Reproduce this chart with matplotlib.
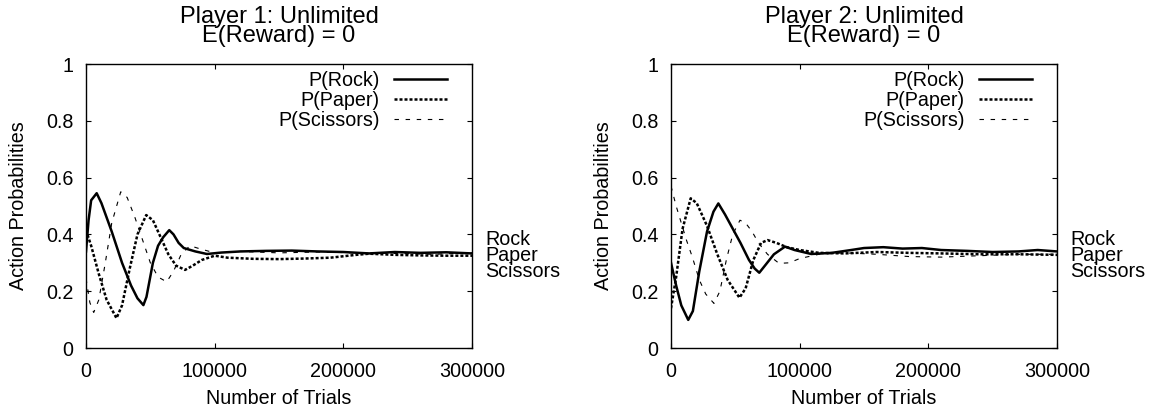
import matplotlib
matplotlib.use("Agg")
import matplotlib.pyplot as plt

plt.rcParams['font.family'] = ['Liberation Sans', 'DejaVu Sans']
plt.rcParams['font.size'] = 14.2

# ---- data (trials, probability) ----
# Player 1
r1_t = [0, 2000, 4000, 8300, 12000, 20000, 28000, 35000, 40000, 44600, 47000, 52000,
        56000, 60000, 64700, 68000, 72000, 76000, 85000, 94000, 105000, 120000, 140000,
        160000, 180000, 200000, 220000, 240000, 260000, 280000, 300000]
r1_p = [0.34, 0.45, 0.52, 0.545, 0.51, 0.41, 0.30, 0.22, 0.175, 0.151, 0.18, 0.30,
        0.36, 0.39, 0.415, 0.40, 0.37, 0.352, 0.34, 0.331, 0.336, 0.34, 0.342,
        0.343, 0.34, 0.338, 0.333, 0.338, 0.335, 0.337, 0.333]

p1_t = [0, 4000, 10000, 16000, 23700, 28000, 34000, 40000, 46800, 52000, 58000, 64000,
        70000, 77000, 83000, 90000, 100000, 110000, 130000, 150000, 170000, 190000,
        210000, 220000, 240000, 260000, 280000, 300000]
p1_p = [0.415, 0.36, 0.26, 0.17, 0.105, 0.15, 0.28, 0.40, 0.468, 0.45, 0.39, 0.33,
        0.29, 0.275, 0.29, 0.31, 0.325, 0.318, 0.314, 0.313, 0.315, 0.318,
        0.328, 0.332, 0.328, 0.326, 0.325, 0.325]

s1_t = [0, 3000, 6000, 10000, 15000, 20000, 27000, 32000, 38000, 44000, 50000, 56000,
        62700, 68000, 74000, 80800, 88000, 100000, 120000, 150000, 180000, 210000,
        240000, 270000, 300000]
s1_p = [0.245, 0.16, 0.125, 0.17, 0.30, 0.44, 0.55, 0.53, 0.46, 0.38, 0.30, 0.25,
        0.233, 0.27, 0.33, 0.36, 0.35, 0.335, 0.34, 0.335, 0.338, 0.335,
        0.333, 0.33, 0.335]

# Player 2
r2_t = [0, 4000, 8000, 13400, 17000, 22000, 28000, 33000, 36800, 42000, 48000, 54000,
        60600, 65000, 68600, 73000, 80000, 88600, 96000, 109000, 125000, 140000, 150000,
        165000, 180000, 195000, 210000, 230000, 250000, 270000, 285000, 300000]
r2_p = [0.30, 0.22, 0.15, 0.099, 0.13, 0.27, 0.41, 0.48, 0.509, 0.47, 0.42, 0.37,
        0.31, 0.28, 0.265, 0.29, 0.33, 0.357, 0.345, 0.331, 0.335, 0.345, 0.352,
        0.355, 0.35, 0.352, 0.345, 0.342, 0.338, 0.34, 0.345, 0.34]

p2_t = [0, 4000, 9000, 15300, 20000, 28000, 36000, 44000, 53200, 58000, 64000, 70000,
        75000, 82000, 90000, 100000, 115000, 135000, 160000, 185000, 210000, 240000,
        270000, 300000]
p2_p = [0.14, 0.25, 0.42, 0.527, 0.51, 0.43, 0.33, 0.24, 0.177, 0.21, 0.31, 0.37,
        0.38, 0.37, 0.355, 0.345, 0.335, 0.333, 0.338, 0.335, 0.333, 0.33,
        0.33, 0.328]

s2_t = [0, 4000, 8000, 12000, 16600, 22000, 27000, 33400, 38000, 43000, 48000, 53600,
        58000, 63000, 68000, 75000, 84000, 92000, 100000, 115000, 135000, 160000,
        185000, 210000, 240000, 270000, 300000]
s2_p = [0.57, 0.50, 0.44, 0.38, 0.32, 0.24, 0.19, 0.157, 0.20, 0.31, 0.40, 0.45,
        0.44, 0.41, 0.37, 0.33, 0.298, 0.30, 0.315, 0.33, 0.335, 0.33,
        0.322, 0.32, 0.325, 0.33, 0.33]

titles = ["Player 1: Unlimited\nE(Reward) = 0", "Player 2: Unlimited\nE(Reward) = 0"]
labels = ["P(Rock)", "P(Paper)", "P(Scissors)"]
xticks = [0, 100000, 200000, 300000]
yticks = [0, 0.2, 0.4, 0.6, 0.8, 1]
ytick_labels = ["0", "0.2", "0.4", "0.6", "0.8", "1"]

panels = [
    (r1_t, r1_p, p1_t, p1_p, s1_t, s1_p),
    (r2_t, r2_p, p2_t, p2_p, s2_t, s2_p),
]

W, H = 1149, 412
fig = plt.figure(figsize=(W / 100, H / 100), dpi=100)

lefts = [86, 671]
for i, (rt, rp, pt, pp, st, sp) in enumerate(panels):
    ax = fig.add_axes([lefts[i] / W, (H - 348) / H, 386 / W, 284 / H])
    ax.plot(rt, rp, color='black', lw=1.8, label=labels[0])
    ax.plot(pt, pp, color='black', lw=1.8, ls=(0, (1.2, 0.8)), label=labels[1])
    ax.plot(st, sp, color='black', lw=0.8, ls=(0, (4, 6)), label=labels[2])

    ax.set_xlim(0, 300000)
    ax.set_ylim(0, 1)
    ax.set_xticks(xticks)
    ax.set_xticklabels([str(x) for x in xticks])
    ax.set_yticks(yticks)
    ax.set_yticklabels(ytick_labels)
    ax.tick_params(axis='both', direction='in', top=True, right=True,
                   length=3.5, width=0.8)
    ax.tick_params(axis='x', pad=10)
    ax.tick_params(axis='y', pad=9)
    for sp_ in ax.spines.values():
        sp_.set_linewidth(1.0)

    ax.set_title(titles[i], pad=15.5, linespacing=0.85)
    ax.set_xlabel("Number of Trials", labelpad=6)
    ax.set_ylabel("Action Probabilities", labelpad=13)

    ax.legend(loc='upper right', bbox_to_anchor=(0.935, 0.975), frameon=False,
              markerfirst=False, handlelength=2.7, handletextpad=0.7,
              labelspacing=0.05, borderaxespad=0, borderpad=0)

    ax.text(1.034, 0.327, "Rock\nPaper\nScissors", transform=ax.get_yaxis_transform(),
            ha='left', va='center', linespacing=0.8)

fig.savefig("out.png", dpi=100)
